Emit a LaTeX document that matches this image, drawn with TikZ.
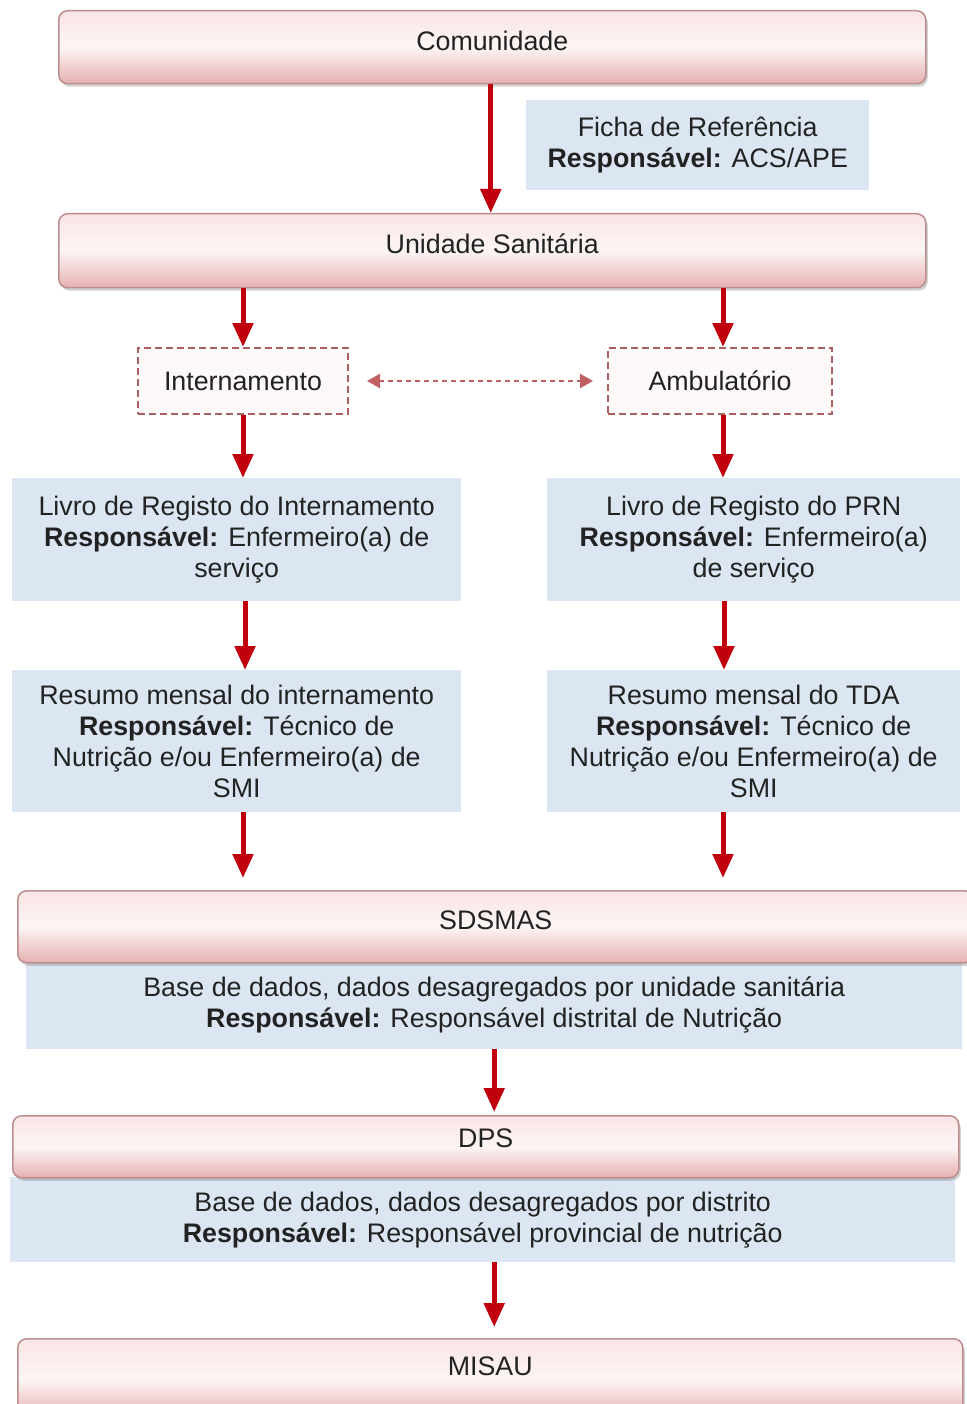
\documentclass[tikz,border=0pt]{standalone}
\usepackage{fontspec}
\setmainfont{Liberation Sans}
\usetikzlibrary{arrows.meta,shadows,calc}
\definecolor{arrred}{HTML}{C0000C}
\definecolor{pinkborder}{HTML}{BC8E8E}
\definecolor{pinktop}{HTML}{F9E4E4}
\definecolor{pinkmid}{HTML}{FDF5F5}
\definecolor{pinkbot}{HTML}{E5B0B0}
\definecolor{bluefill}{HTML}{DCE6F2}
\definecolor{dashred}{HTML}{A86060}
\definecolor{dblred}{HTML}{C06060}
\definecolor{txt}{HTML}{222222}
\tikzset{
  every node/.style={font=\fontsize{26.8}{31}\selectfont, text=txt},
  pinkbox/.style={draw=pinkborder, line width=1.5pt, rounded corners=9pt,
    top color=pinktop, bottom color=pinkbot, middle color=pinkmid,
    drop shadow={shadow xshift=2pt, shadow yshift=-3pt, opacity=0.35},
    anchor=north west, text height=19pt, text depth=13pt, inner sep=0pt},
  bluebox/.style={fill=bluefill, anchor=north west, align=center, inner sep=0pt},
  dashbox/.style={draw=dashred, dash pattern=on 7pt off 4pt, line width=2pt,
    fill=pinkmid!60!white, anchor=north west, inner sep=0pt},
  arr/.style={draw=arrred, line width=5pt, -{Triangle[length=24pt, width=20pt]}},
  dblarr/.style={draw=dblred, line width=2.4pt, dash pattern=on 5pt off 4pt,
    {Triangle[length=13pt, width=14pt]}-{Triangle[length=13pt, width=14pt]}}
}
\newcommand{\resp}{\textbf{Responsável:}}
\begin{document}
\begin{tikzpicture}[x=1pt, y=-1pt]
\useasboundingbox[fill=white] (0,0) rectangle (966,1404);

% top boxes
\node[pinkbox, minimum width=867pt, minimum height=73pt] (com) at (58,10) {Comunidade};
\node[bluebox, minimum width=343pt, minimum height=90pt] (ficha) at (526,100)
  {Ficha de Referência\\ \resp{} ACS/APE};
\node[pinkbox, minimum width=867pt, minimum height=74pt] (us) at (58,213) {Unidade Sanitária};

% dashed boxes
\node[dashbox, minimum width=210pt, minimum height=66pt] (intern) at (137,347) {Internamento};
\node[dashbox, minimum width=224pt, minimum height=66pt] (amb) at (607,347) {Ambulatório};

% register books
\node[bluebox, minimum width=449pt, minimum height=123pt] (livroI) at (12,478)
  {Livro de Registo do Internamento\\ \resp{} Enfermeiro(a) de\\ serviço};
\node[bluebox, minimum width=413pt, minimum height=123pt] (livroP) at (547,478)
  {Livro de Registo do PRN\\ \resp{} Enfermeiro(a)\\ de serviço};

% monthly summaries
\node[bluebox, minimum width=449pt, minimum height=142pt] (resI) at (12,670)
  {Resumo mensal do internamento\\ \resp{} Técnico de\\ Nutrição e/ou Enfermeiro(a) de\\ SMI};
\node[bluebox, minimum width=413pt, minimum height=142pt] (resT) at (547,670)
  {Resumo mensal do TDA\\ \resp{} Técnico de\\ Nutrição e/ou Enfermeiro(a) de\\ SMI};

% SDSMAS
\node[bluebox, minimum width=936pt, minimum height=88pt] (sdsb) at (26,961)
  {Base de dados, dados desagregados por unidade sanitária\\ \resp{} Responsável distrital de Nutrição};
\node[pinkbox, minimum width=956pt, minimum height=72pt] (sds) at (17,890) {SDSMAS};

% DPS
\node[bluebox, minimum width=945pt, minimum height=85pt] (dpsb) at (10,1177)
  {Base de dados, dados desagregados por distrito\\ \resp{} Responsável provincial de nutrição};
\node[pinkbox, minimum width=946pt, minimum height=62pt, text height=17pt, text depth=15pt] (dps) at (12,1115) {DPS};

% MISAU
\node[pinkbox, minimum width=945pt, minimum height=80pt, text height=19pt, text depth=25pt] (misau) at (17,1338) {MISAU};

% connectors
\draw[arr] ([xshift=-1.5pt]com.south) -- ([xshift=-1.5pt]us.north);
\draw[arr] (intern.north |- us.south) -- (intern.north);
\draw[arr] ([xshift=3pt]amb.north |- us.south) -- ([xshift=3pt]amb.north);
\draw[dblarr] ([xshift=18pt]intern.east) -- ([xshift=-14pt]amb.west);
\draw[arr] (intern.south) -- (intern.south |- livroI.north);
\draw[arr] ([xshift=3pt]amb.south) -- ([xshift=3pt]amb.south |- livroP.north);
\draw[arr] ([xshift=2pt]intern.south |- livroI.south) -- ([xshift=2pt]intern.south |- resI.north);
\draw[arr] ([xshift=4pt]amb.south |- livroP.south) -- ([xshift=4pt]amb.south |- resT.north);
\draw[arr] (intern.south |- resI.south) -- ([yshift=12pt]intern.south |- sds.north);
\draw[arr] ([xshift=3pt]amb.south |- resT.south) -- ([xshift=3pt,yshift=12pt]amb.south |- sds.north);
\draw[arr] (sdsb.south) -- ([yshift=3pt]sdsb.south |- dps.north);
\draw[arr] (sdsb.south |- dpsb.south) -- ([yshift=11pt]sdsb.south |- misau.north);
\end{tikzpicture}
\end{document}
